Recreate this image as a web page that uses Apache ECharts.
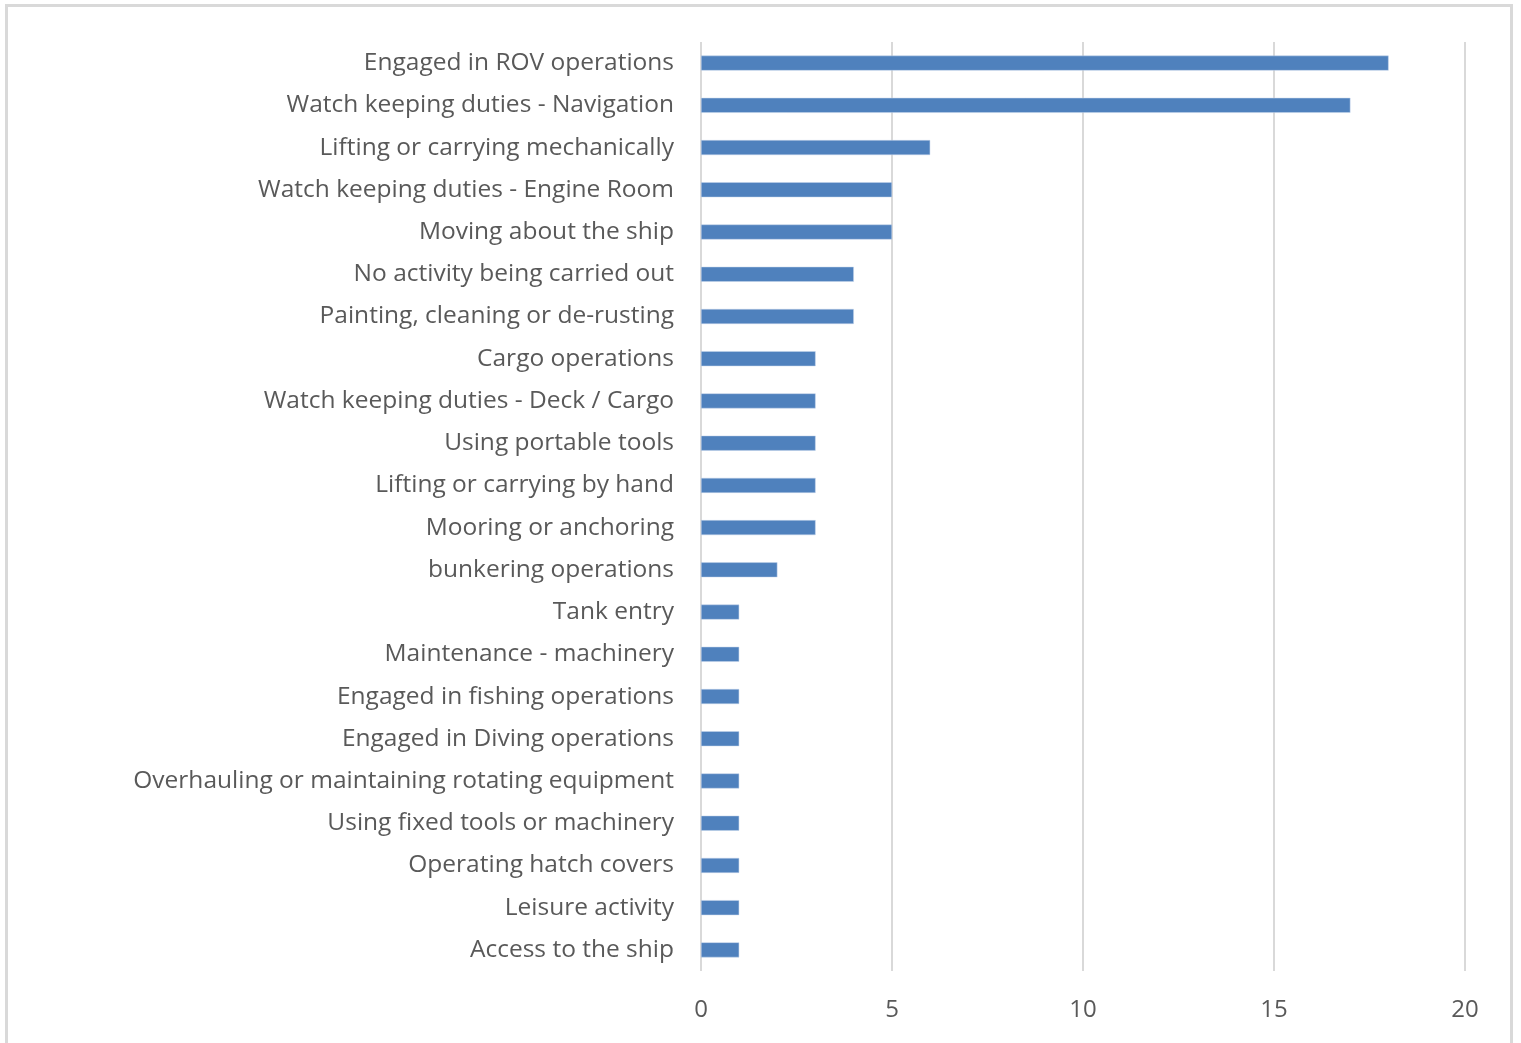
<!DOCTYPE html>
<html>
<head>
<meta charset="utf-8">
<script src="https://cdn.jsdelivr.net/npm/echarts@6/dist/echarts.min.js"></script>
<style>
  html, body { margin: 0; padding: 0; background: #ffffff; }
  #frame { position: absolute; left: 5px; top: 4px; width: 1508px; height: 1060px; border: 3px solid #d9d9d9; border-bottom: none; box-sizing: border-box; }
  #chart { position: absolute; left: 0; top: 0; width: 1521px; height: 1043px; }
</style>
</head>
<body>
<div id="frame"></div>
<div id="chart"></div>
<script>
// Activity categories, listed top to bottom
const activities = [
  'Engaged in ROV operations',
  'Watch keeping duties - Navigation',
  'Lifting or carrying mechanically',
  'Watch keeping duties - Engine Room',
  'Moving about the ship',
  'No activity being carried out',
  'Painting, cleaning or de-rusting',
  'Cargo operations',
  'Watch keeping duties - Deck / Cargo',
  'Using portable tools',
  'Lifting or carrying by hand',
  'Mooring or anchoring',
  'bunkering operations',
  'Tank entry',
  'Maintenance - machinery',
  'Engaged in fishing operations',
  'Engaged in Diving operations',
  'Overhauling or maintaining rotating equipment',
  'Using fixed tools or machinery',
  'Operating hatch covers',
  'Leisure activity',
  'Access to the ship'
];
// Count for each activity
const counts = [18, 17, 6, 5, 5, 4, 4, 3, 3, 3, 3, 3, 2, 1, 1, 1, 1, 1, 1, 1, 1, 1];
// Value axis ticks
const xTicks = [0, 5, 10, 15, 20];

const chart = echarts.init(document.getElementById('chart'));
const font = '"Open Sans", "Noto Sans", sans-serif';
chart.setOption({
  animation: false,
  grid: { left: 701, right: 56, top: 42, bottom: 72, containLabel: false },
  xAxis: {
    type: 'value',
    min: xTicks[0],
    max: xTicks[xTicks.length - 1],
    interval: 5,
    axisLine: { show: false },
    axisTick: { show: false },
    axisLabel: { color: '#595959', fontSize: 24, fontFamily: font, margin: 27 },
    splitLine: { show: true, lineStyle: { color: '#d9d9d9', width: 2 } }
  },
  yAxis: {
    type: 'category',
    inverse: true,
    data: activities,
    axisLine: { show: false },
    axisTick: { show: false },
    axisLabel: { color: '#595959', fontSize: 24.5, fontFamily: font, margin: 27 }
  },
  series: [{
    type: 'bar',
    data: counts,
    barWidth: 15,
    itemStyle: { color: '#4f81bd', borderColor: '#c5d5ea', borderWidth: 0.5 }
  }]
});
</script>
</body>
</html>
